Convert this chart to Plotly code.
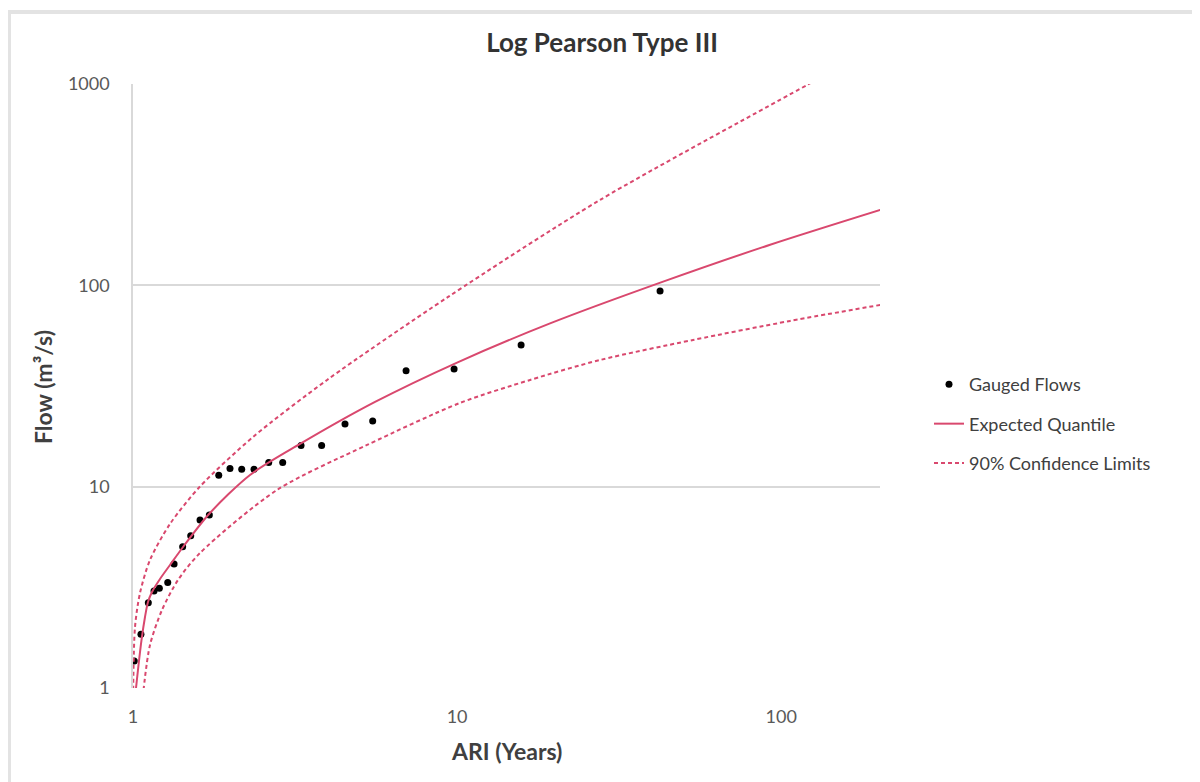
import plotly.graph_objects as go

# Gauged flows (ARI years, flow m3/s)
gauged_ari = [1.009, 1.058, 1.115, 1.161, 1.206, 1.280, 1.339, 1.423, 1.507, 1.61,
              1.72, 1.839, 1.992, 2.165, 2.363, 2.623, 2.897, 3.30, 3.82, 4.51,
              5.49, 6.96, 9.79, 15.76, 42.3]
gauged_flow = [1.36, 1.85, 2.65, 3.03, 3.13, 3.34, 4.13, 5.03, 5.71, 6.83,
               7.23, 11.4, 12.3, 12.2, 12.2, 13.2, 13.2, 16.0, 16.0, 20.5,
               21.2, 37.6, 38.4, 50.6, 93.8]

# Expected quantile curve
exp_ari = [1.0216, 1.0399, 1.0622, 1.089, 1.1124, 1.1446, 1.2115, 1.3007, 1.4268, 1.7166,
           2.2965, 3.277, 5.583, 10.0, 19.36, 43.23, 92.48, 202.1]
exp_flow = [1.0, 1.301, 1.731, 2.253, 2.674, 2.999, 3.48, 4.083, 5.016, 7.317,
            11.43, 16.30, 26.35, 41.35, 64.69, 104.3, 159.1, 236.9]

# Upper 90% confidence limit
up_ari = [1.0014, 1.0143, 1.051, 1.1285, 1.3007, 1.61, 2.346, 3.971, 9.381, 27.63, 120.3, 141.6]
up_flow = [0.98, 2.009, 2.965, 4.324, 6.527, 10.02, 17.65, 33.89, 87.59, 265.7, 989.7, 1148]

# Lower 90% confidence limit
lo_ari = [1.0775, 1.1285, 1.2289, 1.3768, 1.61, 2.783, 5.275, 10.21, 16.80, 27.63, 53.50, 106.6, 202.1]
lo_flow = [0.977, 1.636, 2.441, 3.44, 4.684, 9.63, 16.11, 26.05, 33.89, 42.60, 53.56, 66.56, 79.91]

x_ticks = [1, 10, 100]
y_ticks = [1, 10, 100, 1000]

RED = "#d9486e"
FONT = "Lato"
W, H = 1192, 774
L, T, PW, PH = 125, 76, 747, 604

fig = go.Figure()
fig.add_trace(go.Scatter(x=gauged_ari, y=gauged_flow, mode="markers", name="Gauged Flows",
                         legendgroup="g",
                         marker=dict(color="black", size=7, symbol="circle")))
fig.add_trace(go.Scatter(x=exp_ari, y=exp_flow, mode="lines", name="Expected Quantile",
                         legendgroup="e",
                         line=dict(color=RED, width=2, shape="spline", smoothing=0.8)))
fig.add_trace(go.Scatter(x=up_ari, y=up_flow, mode="lines", name="90% Confidence Limits",
                         legendgroup="cl",
                         line=dict(color=RED, width=2, dash="4px,3px", shape="spline", smoothing=0.8)))
fig.add_trace(go.Scatter(x=lo_ari, y=lo_flow, mode="lines", name="90% Confidence Limits",
                         legendgroup="cl", showlegend=False,
                         line=dict(color=RED, width=2, dash="4px,3px", shape="spline", smoothing=0.8)))

fig.update_layout(
    width=W, height=H,
    margin=dict(l=L, r=W - L - PW, t=T, b=H - T - PH),
    paper_bgcolor="white", plot_bgcolor="white",
    font=dict(family=FONT, size=18, color="#595959"),
    title=dict(text="<b>Log Pearson Type III</b>", x=594 / W, xanchor="center",
               y=1 - 35 / H, yanchor="middle",
               font=dict(family=FONT, size=26, color="#333333")),
    showlegend=True,
    legend=dict(x=1.0656, xanchor="left", y=0.437, yanchor="middle",
                font=dict(family=FONT, size=18, color="#404040"),
                bgcolor="rgba(0,0,0,0)", tracegroupgap=13, itemwidth=30),
    xaxis=dict(type="log", range=[0, 2.305], tickvals=x_ticks, ticktext=[str(v) for v in x_ticks],
               showgrid=False, zeroline=False, showline=False, ticks="",
               ticklabelstandoff=16, tickfont=dict(size=18, color="#595959")),
    yaxis=dict(type="log", range=[0, 3], tickvals=y_ticks, ticktext=[str(v) for v in y_ticks],
               showgrid=True, gridcolor="#d9d9d9", gridwidth=1.5, zeroline=False,
               showline=True, linecolor="#d9d9d9", linewidth=1.5, ticks="",
               ticklabelstandoff=18, tickfont=dict(size=18, color="#595959")),
    annotations=[
        dict(text="<b>ARI (Years)</b>", xref="paper", yref="paper",
             x=(498 - L) / PW, y=(T + PH - 743) / PH, xanchor="center", yanchor="middle",
             showarrow=False, font=dict(family=FONT, size=23, color="#404040")),
        dict(text="<b>Flow (m³/s)</b>", xref="paper", yref="paper",
             x=(35 - L) / PW, y=(T + PH - 379) / PH, xanchor="center", yanchor="middle",
             textangle=-90, showarrow=False, font=dict(family=FONT, size=23, color="#404040")),
    ],
    shapes=[
        dict(type="line", xref="paper", yref="paper",
             x0=(0 - L) / PW, x1=(W - L) / PW, y0=(T + PH - 4) / PH, y1=(T + PH - 4) / PH,
             line=dict(color="#e3e3e3", width=4)),
        dict(type="line", xref="paper", yref="paper",
             x0=(1 - L) / PW, x1=(1 - L) / PW, y0=(T + PH - 4) / PH, y1=(T + PH - H) / PH,
             line=dict(color="#e3e3e3", width=4)),
    ],
)

fig.write_html("out.html")
